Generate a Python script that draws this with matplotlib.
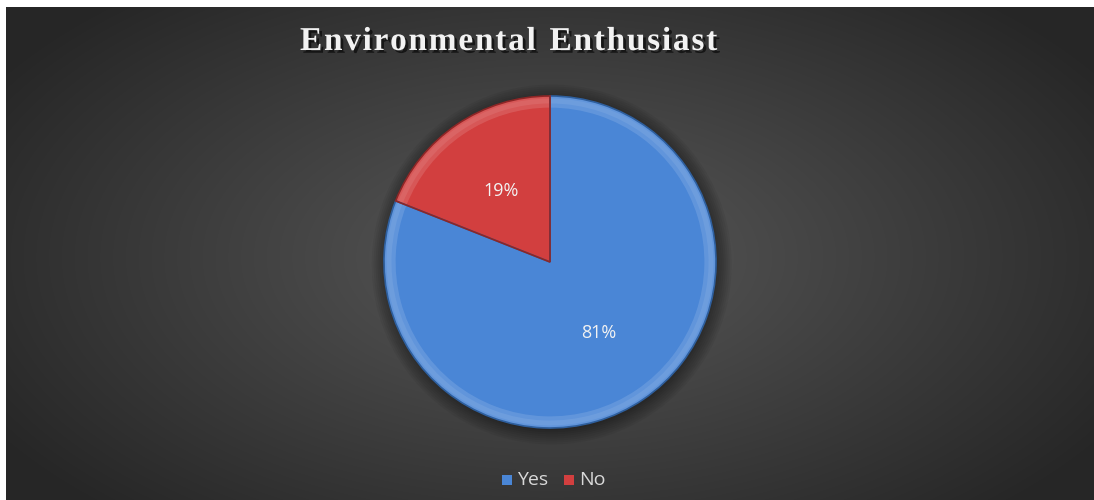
import numpy as np
import matplotlib
matplotlib.use("Agg")
import matplotlib.pyplot as plt
import matplotlib.patheffects as pe
from matplotlib.patches import Wedge, Circle, Rectangle

# ---------------------------------------------------------------
# data
# ---------------------------------------------------------------
TITLE = "Environmental Enthusiast"
labels = ["Yes", "No"]
shares = [81, 19]
colors = ["#4a86d6", "#d23f3f"]
edge_colors = ["#2e5f9e", "#8e2626"]

W, H = 1094, 500
DPI = 100

fig = plt.figure(figsize=(W / DPI, H / DPI), dpi=DPI)
fig.patch.set_facecolor("white")

# ---------------------------------------------------------------
# radial gradient backdrop (white strip kept on top and left)
# ---------------------------------------------------------------
bw, bh = W - 6, H - 7
yy, xx = np.mgrid[0:bh, 0:bw]
cx, cy = 545, 250
d = np.sqrt(((xx - cx) / 620.0) ** 2 + ((yy - cy) / 330.0) ** 2)
shade = np.clip(0.35 - 0.19 * d, 0.15, 0.35)
fig.figimage(np.dstack([shade] * 3), xo=6, yo=0, origin="upper", zorder=0)

# ---------------------------------------------------------------
# pie
# ---------------------------------------------------------------
R_PX = 166
LIM = 1.12
ax = fig.add_axes([(550 - R_PX * LIM) / W, (238 - R_PX * LIM) / H,
                   2 * R_PX * LIM / W, 2 * R_PX * LIM / H])
ax.set_zorder(5)
ax.patch.set_alpha(0)
ax.set_axis_off()

# soft dark halo under the pie
for k in range(8):
    ax.add_patch(Circle((0.01, -0.015), 1.0 + 0.012 * k, color="black",
                        alpha=0.05, lw=0, zorder=0))

wedges, _, autotexts = ax.pie(
    shares, colors=colors, startangle=90, counterclock=False,
    autopct=lambda p: f"{p:.0f}%", pctdistance=0.52, radius=1.0,
    wedgeprops=dict(edgecolor="none", linewidth=0),
    textprops=dict(color="#f2f2f2", fontsize=13, family="Open Sans"),
)
for t in autotexts:
    t.set_zorder(10)
ax.set_xlim(-LIM, LIM)
ax.set_ylim(-LIM, LIM)
ax.set_aspect("equal")

# bevel: lighter rim on each slice, darker outline
theta = 90.0
for frac, col, ecol in zip(shares, colors, edge_colors):
    t2 = theta
    t1 = theta - 360.0 * frac / sum(shares)
    ax.add_patch(Wedge((0, 0), 1.0, t1, t2, width=0.07, facecolor="white",
                       alpha=0.13, lw=0, zorder=3))
    ax.add_patch(Wedge((0, 0), 0.985, t1, t2, width=0.03, facecolor="white",
                       alpha=0.08, lw=0, zorder=3))
    ax.add_patch(Wedge((0, 0), 1.0, t1, t2, facecolor="none", edgecolor=ecol,
                       lw=1.2, zorder=4))
    theta = t1

# ---------------------------------------------------------------
# title with wide letter spacing
# ---------------------------------------------------------------
def spaced_text(fig, x0, y, s, tracking, **kw):
    renderer = fig.canvas.get_renderer()
    x = x0
    for ch in s:
        t = fig.text(x / W, y / H, ch, **kw)
        if ch == " ":
            probe = fig.text(0, 0, "n", **kw)
            w = probe.get_window_extent(renderer=renderer).width * 0.55
            probe.remove()
        else:
            w = t.get_window_extent(renderer=renderer).width
        x += w + tracking

title_kw = dict(family="Liberation Serif", fontweight="bold", fontsize=24,
                color="#f2f2f2", va="baseline", ha="left", zorder=6,
                path_effects=[pe.withSimplePatchShadow(offset=(2, -2),
                                                       shadow_rgbFace="black",
                                                       alpha=0.6)])
spaced_text(fig, 300, H - 50, TITLE, 1.75, **title_kw)

# ---------------------------------------------------------------
# legend
# ---------------------------------------------------------------
leg_y = H - 480
x = 502
for lab, col in zip(labels, colors):
    fig.patches.append(Rectangle((x / W, (leg_y - 5) / H), 10 / W, 10 / H,
                                 transform=fig.transFigure, facecolor=col,
                                 edgecolor="none", zorder=6))
    t = fig.text((x + 15) / W, leg_y / H, lab, family="Open Sans",
                 fontsize=14, color="#d9d9d9", va="center", ha="left",
                 zorder=6)
    w = t.get_window_extent(renderer=fig.canvas.get_renderer()).width
    x += 15 + w + 16

fig.savefig("out.png", dpi=DPI, facecolor=fig.get_facecolor())
